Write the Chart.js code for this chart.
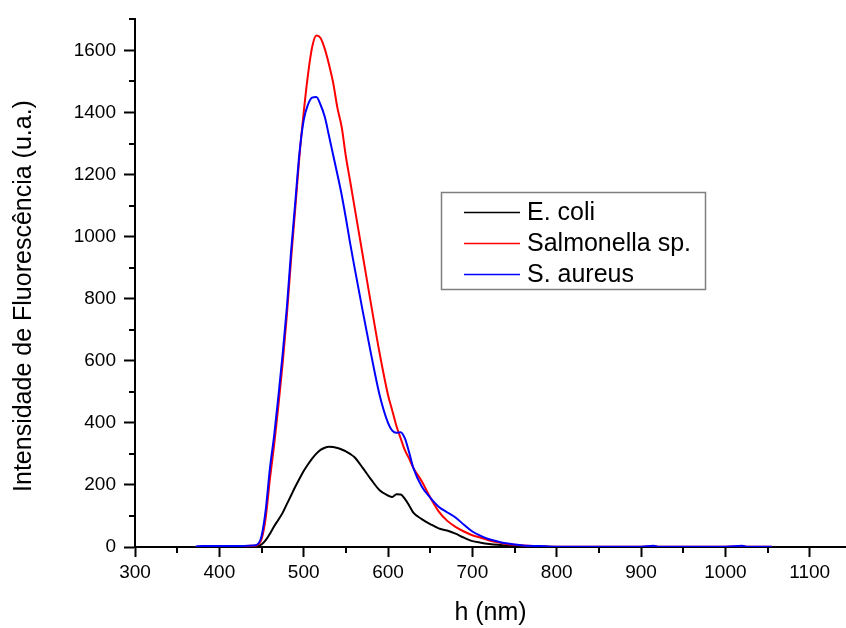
<!DOCTYPE html>
<html>
<head>
<meta charset="utf-8">
<script src="https://cdn.jsdelivr.net/npm/chart.js@4.4.0/dist/chart.umd.min.js"></script>
<style>
  html, body { margin: 0; padding: 0; background: #fff; }
  #wrap { width: 846px; height: 628px; }
</style>
</head>
<body>
<div id="wrap"><canvas id="chart" width="846" height="628"></canvas></div>
<script>
// Emission spectra (nm) for the three bacterial samples
const wavelength = [372, 380, 400, 420, 440, 445, 450, 455, 460, 465, 470, 475, 480, 485, 490, 495,
  500, 505, 510, 515, 520, 525, 530, 535, 540, 545, 550, 555, 560, 570, 580, 590,
  600, 605, 610, 615, 620, 625, 630, 640, 650, 660, 670, 680, 690, 700, 710, 720,
  730, 740, 750, 760, 780, 800, 850, 900, 915, 920, 950, 1000, 1020, 1025, 1055]

const eColi = [0, 1, 1, 1, 2, 3, 8, 22, 43, 67, 88, 110, 138, 166, 194, 220,
  245, 266, 285, 301, 313, 320, 323, 322, 319, 314, 308, 300, 290, 255, 217, 183,
  166, 161, 170, 169, 155, 134, 111, 90, 74, 60, 53, 43, 30, 19, 14, 10,
  7, 5, 3, 2, 1, 0, 0, 0, 0, 0, 0, 0, 0, 0, 0]

const salmonella = [0, 2, 2, 2, 4, 6, 25, 95, 220, 330, 455, 590, 745, 925, 1090, 1260,
  1400, 1520, 1610, 1648, 1640, 1605, 1555, 1495, 1415, 1354, 1259, 1180, 1100, 940, 780, 625,
  490, 440, 390, 350, 312, 285, 255, 212, 160, 115, 85, 65, 50, 38, 30, 21,
  15, 10, 7, 5, 2, 1, 1, 1, 2, 1, 1, 1, 2, 1, 1]

const sAureus = [2, 3, 3, 3, 5, 8, 35, 120, 254, 360, 485, 620, 770, 950, 1110, 1270,
  1375, 1425, 1448, 1450, 1425, 1386, 1325, 1262, 1200, 1135, 1060, 980, 905, 760, 620, 490,
  400, 375, 368, 370, 350, 305, 255, 195, 159, 130, 112, 95, 72, 50, 36, 25,
  18, 12, 8, 5, 3, 1, 1, 1, 4, 1, 1, 1, 4, 1, 1]

const seriesNames = ['E. coli', 'Salmonella sp.', 'S. aureus']
const xTicks = [300, 400, 500, 600, 700, 800, 900, 1000, 1100]
const yTicks = [0, 200, 400, 600, 800, 1000, 1200, 1400, 1600]
const yTitle = 'Intensidade de Fluorescência (u.a.)'
const xTitle = 'h (nm)'

const FONT = '"Liberation Sans", Arial, sans-serif'

const toPoints = values => wavelength.map((x, i) => ({ x: x, y: values[i] }))

// minor ticks sit halfway between the labelled ones (and one step past the last)
const minorOf = (ticks, max) => {
  const step = ticks[1] - ticks[0]
  const out = []
  for (let v = ticks[0] + step / 2; v <= max; v += step) out.push(v)
  return out
}

const extrasPlugin = {
  id: 'extras',
  afterDraw(chart) {
    const ctx = chart.ctx
    const area = chart.chartArea
    const xs = chart.scales.x
    const ys = chart.scales.y

    // minor ticks
    ctx.save()
    ctx.strokeStyle = '#000'
    ctx.lineWidth = 2
    ctx.beginPath()
    minorOf(xTicks, xs.max).forEach(v => {
      const px = Math.round(xs.getPixelForValue(v))
      ctx.moveTo(px, area.bottom)
      ctx.lineTo(px, area.bottom + 6)
    })
    minorOf(yTicks, ys.max).forEach(v => {
      const py = Math.round(ys.getPixelForValue(v))
      ctx.moveTo(area.left - 6, py)
      ctx.lineTo(area.left, py)
    })
    ctx.stroke()
    ctx.restore()

    // y axis title
    ctx.save()
    ctx.translate(24, 296)
    ctx.rotate(-Math.PI / 2)
    ctx.font = '25px ' + FONT
    ctx.fillStyle = '#000'
    ctx.textAlign = 'center'
    ctx.textBaseline = 'middle'
    ctx.fillText(yTitle, 0, 0)
    ctx.restore()

    // boxed legend inside the plot
    ctx.save()
    ctx.fillStyle = '#fff'
    ctx.fillRect(441, 192, 264, 97)
    ctx.strokeStyle = '#7f7f7f'
    ctx.lineWidth = 1.5
    ctx.strokeRect(441.5, 192.5, 264, 97)
    ctx.font = '25px ' + FONT
    ctx.textBaseline = 'middle'
    chart.data.datasets.forEach((ds, i) => {
      const y = 212.5 + i * 31
      ctx.strokeStyle = ds.borderColor
      ctx.lineWidth = 1.5
      ctx.beginPath()
      ctx.moveTo(464, y)
      ctx.lineTo(520, y)
      ctx.stroke()
      ctx.fillStyle = '#000'
      ctx.fillText(ds.label, 527, y + 1)
    })
    ctx.restore()
  }
}

const lineStyle = {
  borderWidth: 2,
  pointRadius: 0,
  fill: false,
  cubicInterpolationMode: 'monotone'
}

const plainTick = v => String(v)

new Chart(document.getElementById('chart'), {
  type: 'line',
  data: {
    datasets: [
      { ...lineStyle, label: seriesNames[0], data: toPoints(eColi), borderColor: '#000000', order: 2 },
      { ...lineStyle, label: seriesNames[1], data: toPoints(salmonella), borderColor: '#ff0000', order: 1 },
      { ...lineStyle, label: seriesNames[2], data: toPoints(sAureus), borderColor: '#0000ff', order: 0 }
    ]
  },
  options: {
    responsive: false,
    animation: false,
    devicePixelRatio: 1,
    layout: { padding: { top: 11, right: 0, bottom: 0, left: 0 } },
    plugins: {
      legend: { display: false },
      tooltip: { enabled: false }
    },
    scales: {
      x: {
        type: 'linear',
        position: 'bottom',
        min: 300,
        max: 1143,
        afterBuildTicks: s => { s.ticks = xTicks.map(v => ({ value: v })) },
        afterFit: s => { s.height = 81 },
        border: { display: true, color: '#000', width: 2 },
        grid: { drawOnChartArea: false, drawTicks: true, tickLength: 10, tickWidth: 2, tickColor: '#000' },
        ticks: { color: '#000', font: { family: FONT, size: 19 }, padding: 4, maxRotation: 0, autoSkip: false, callback: plainTick },
        title: { display: true, text: xTitle, color: '#000', font: { family: FONT, size: 25 }, padding: { top: 0, bottom: 0 } }
      },
      y: {
        type: 'linear',
        min: 0,
        max: 1700,
        afterBuildTicks: s => { s.ticks = yTicks.map(v => ({ value: v })) },
        afterFit: s => { s.width = 135 },
        border: { display: true, color: '#000', width: 2 },
        grid: { drawOnChartArea: false, drawTicks: true, tickLength: 11, tickWidth: 2, tickColor: '#000' },
        ticks: { color: '#000', font: { family: FONT, size: 19 }, padding: 8, autoSkip: false, callback: plainTick }
      }
    }
  },
  plugins: [extrasPlugin]
})
</script>
</body>
</html>
